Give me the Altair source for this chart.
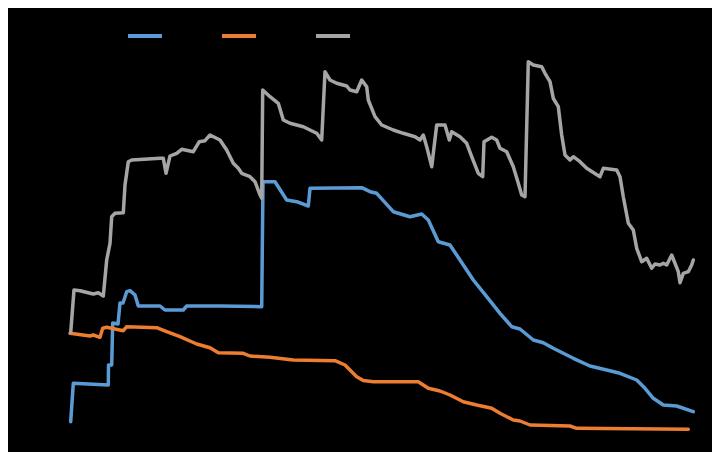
import altair as alt
import pandas as pd

series_names = ["Series1", "Series2", "Series3"]
colors = ["#5B9BD5", "#ED7D31", "#A5A5A5"]

blue_x = [0.7, 3.3, 38.3, 38.5, 41.7, 42.7, 48, 50, 53, 56.7, 60, 65, 68.3, 90, 95, 113.3, 116.7, 150, 191.7, 193, 205, 216.7, 226.7, 238.3, 240, 291.7, 300, 306.7, 323.3, 340, 351.7, 358.3, 368.3, 380, 390, 403.3, 416.7, 430, 441.7, 450, 463.3, 473.3, 483.3, 503.3, 520, 536.7, 550, 566.7, 575, 583.3, 593.3, 606.7, 623.3]
blue_y = [18.3, 56.7, 55, 75, 75, 117, 116, 137, 137, 148.3, 149.3, 145, 134, 134, 130, 130, 134, 134, 133.3, 258.3, 258.3, 240, 238.3, 234, 251.7, 252.3, 248.3, 246.7, 228.3, 223.3, 226, 220, 198.3, 195, 180, 160, 143.3, 126.7, 113.3, 111, 100, 97.3, 91.7, 81.7, 74, 70, 66.7, 60, 51.7, 41.7, 35, 34, 28.3]

orange_x = [0, 20, 23.3, 30, 32.7, 36.7, 53.3, 56.7, 86.7, 96.7, 110, 126.7, 140, 148.3, 173.3, 180, 200, 223.3, 265, 275, 286.7, 293.3, 303.3, 348.3, 358.3, 370, 380, 393.3, 406.7, 421.7, 430, 443.3, 450, 460, 500, 506.7, 618.3]
orange_y = [106.7, 104, 105, 102.7, 111.7, 112.7, 109.3, 113.3, 112.3, 108.3, 103.3, 96, 92.2, 87.3, 86.7, 84, 82.7, 80, 79.3, 75, 63.3, 59.5, 58.3, 58.3, 51.7, 49, 45, 38.3, 35, 31.7, 26.7, 20, 19, 15, 14, 11.7, 10.7]

gray_x = [0.7, 4, 10, 23.3, 28.3, 33.3, 36.7, 40, 41.7, 45, 53.3, 55, 58.3, 61.7, 90, 93.3, 96, 100, 106.7, 111.7, 123.3, 129.3, 135, 140, 150, 156.7, 163.3, 168.3, 171.7, 180, 185, 190, 191.7, 192.7, 200, 208.3, 213.3, 220, 233.3, 240, 246.7, 251.7, 255, 260, 266.7, 276.7, 280, 286.7, 291.7, 296.7, 298.3, 305, 311.7, 323.3, 333.3, 345, 350, 353.3, 356.7, 361.7, 366.7, 375, 379.3, 381.7, 390, 396.7, 401.7, 408.3, 412.7, 414, 421.7, 426.7, 430, 436.7, 443.3, 448.3, 451.7, 455, 458.3, 463.3, 471.7, 475, 480, 483.3, 488.3, 491.7, 495, 500, 503.3, 510, 516.7, 530, 533.3, 546.7, 550, 553.3, 558.3, 563.3, 566.7, 571.7, 576.7, 581.7, 585, 590, 593.3, 596.7, 601.7, 608.3, 610, 613.3, 618.3, 621.7, 623.3]
gray_y = [107.3, 150, 149.3, 146, 147.3, 144, 180, 196.7, 223.3, 226.7, 227.3, 255, 278.3, 280, 281.7, 281.7, 266.7, 284, 286.7, 290.7, 288.3, 298.3, 299.3, 305, 300, 290, 276.7, 271.7, 266.7, 263.3, 258.3, 245, 241.7, 350, 343.3, 336.7, 320, 316.7, 313.3, 310, 306.7, 300, 368.3, 360, 356.7, 354, 350, 348.3, 360, 353.3, 340, 323.3, 315, 310, 306.7, 303.3, 300, 305, 293.3, 273.3, 315, 315, 300, 308.3, 303.3, 296.7, 283.3, 266.7, 263.3, 298.3, 302.7, 300, 291.7, 288.3, 273.3, 256.7, 245, 243.3, 378.3, 375, 373.3, 366.7, 358.3, 341.7, 333.3, 305, 285, 280, 283.3, 278.3, 271.7, 263.3, 271.7, 270, 263.3, 243.3, 216.7, 210, 191.7, 178.3, 181.7, 171.7, 176, 175, 176.7, 175, 185, 168.3, 157.3, 166.7, 168.3, 175, 180]

rows = []
for name, xs, ys in zip(series_names, [blue_x, orange_x, gray_x], [blue_y, orange_y, gray_y]):
    for i, (a, b) in enumerate(zip(xs, ys)):
        rows.append({"series": name, "x": a, "y": b, "i": i})
df = pd.DataFrame(rows)

chart = alt.Chart(df).mark_line(strokeWidth=3.5, strokeJoin="round", strokeCap="round").encode(
    x=alt.X("x:Q", axis=None, scale=alt.Scale(domain=[-62, 642], nice=False, zero=False)),
    y=alt.Y("y:Q", axis=None, scale=alt.Scale(domain=[-12, 432], nice=False, zero=False)),
    color=alt.Color("series:N", scale=alt.Scale(domain=series_names, range=colors),
                    legend=alt.Legend(orient="none", legendX=118, legendY=9, direction="horizontal",
                                      title=None, symbolType="stroke", symbolSize=1156,
                                      symbolStrokeWidth=4, labelColor="black", labelFontSize=11,
                                      columnPadding=8, labelOffset=4)),
    order="i:Q",
).properties(width=704, height=444, padding=0, autosize="none", background="black").configure_view(stroke=None)

chart.save("out.html", embed_options={"renderer": "svg", "actions": False})
